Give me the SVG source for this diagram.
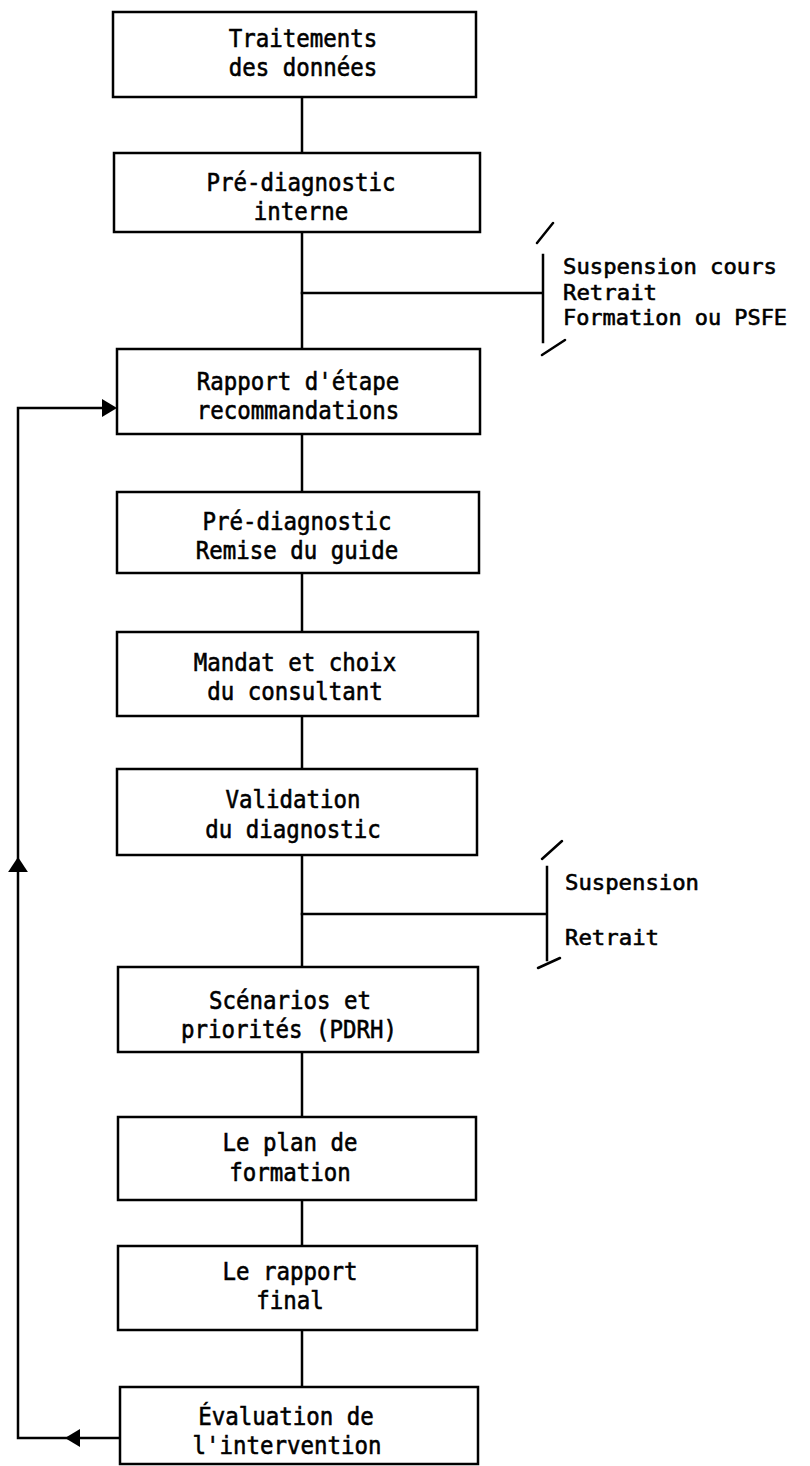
<svg xmlns="http://www.w3.org/2000/svg" xmlns:xlink="http://www.w3.org/1999/xlink" width="810" height="1466" viewBox="0 0 810 1466">
  <style>
    .box { fill: #fff; stroke: #000; stroke-width: 2.5; }
    .line { fill: none; stroke: #000; stroke-width: 2.5; stroke-linecap: square; }
    .slash { fill: none; stroke: #000; stroke-width: 2.5; stroke-linecap: round; }
    .lbl { font-family: "DejaVu Sans Mono", "Liberation Mono", monospace; font-size: 25px; fill: #000; stroke: #000; stroke-width: 0.6; text-anchor: middle; }
    .side { font-family: "DejaVu Sans Mono", "Liberation Mono", monospace; font-size: 22px; fill: #000; stroke: #000; stroke-width: 0.6; text-anchor: start; }
    .head { fill: #000; stroke: none; }
  </style>
  <defs>
    <!-- filled arrowhead pointing right, tip at origin -->
    <path id="tri" d="M0,0 L-15,-9 L-15,9 Z"/>
  </defs>
  <rect width="810" height="1466" fill="#fff"/>

  <g id="connectors">
    <!-- main vertical flow -->
    <path class="line" d="M302,97 V153 M302,232 V349 M302,434 V492 M302,573 V632 M302,716 V769 M302,855 V967 M302,1052 V1117 M302,1200 V1246 M302,1330 V1387"/>
    <!-- first exit branch -->
    <path class="line" d="M302,293 H543 M543,255 V342"/>
    <path class="slash" d="M537,243 L553,223 M542,355 L565,340"/>
    <!-- second exit branch -->
    <path class="line" d="M302,914 H547 M547,867 V960"/>
    <path class="slash" d="M542,859 L562,841 M538,968 L560,958"/>
    <!-- feedback loop -->
    <path class="line" d="M120,1438 H18 V408 H110"/>
    <use href="#tri" class="head" transform="translate(117,408)"/>
    <use href="#tri" class="head" transform="translate(65,1438) rotate(180)"/>
    <use href="#tri" class="head" transform="translate(18,857) rotate(-90) scale(1,1.1)"/>
  </g>

  <g id="n1">
    <rect class="box" x="113" y="12" width="363" height="85"/>
    <text class="lbl" x="303" y="47" textLength="148.5" lengthAdjust="spacingAndGlyphs">Traitements</text>
    <text class="lbl" x="303" y="76" textLength="148.5" lengthAdjust="spacingAndGlyphs">des données</text>
  </g>
  <g id="n2">
    <rect class="box" x="114" y="153" width="366" height="79"/>
    <text class="lbl" x="301" y="191" textLength="189" lengthAdjust="spacingAndGlyphs">Pré-diagnostic</text>
    <text class="lbl" x="301" y="220" textLength="94.5" lengthAdjust="spacingAndGlyphs">interne</text>
  </g>
  <g id="n3">
    <rect class="box" x="117" y="349" width="363" height="85"/>
    <text class="lbl" x="298" y="390" textLength="202.5" lengthAdjust="spacingAndGlyphs">Rapport d'étape</text>
    <text class="lbl" x="298" y="419" textLength="202.5" lengthAdjust="spacingAndGlyphs">recommandations</text>
  </g>
  <g id="n4">
    <rect class="box" x="117" y="492" width="362" height="81"/>
    <text class="lbl" x="297" y="530" textLength="189" lengthAdjust="spacingAndGlyphs">Pré-diagnostic</text>
    <text class="lbl" x="297" y="559" textLength="202.5" lengthAdjust="spacingAndGlyphs">Remise du guide</text>
  </g>
  <g id="n5">
    <rect class="box" x="117" y="632" width="361" height="84"/>
    <text class="lbl" x="295" y="671" textLength="202.5" lengthAdjust="spacingAndGlyphs">Mandat et choix</text>
    <text class="lbl" x="295" y="700" textLength="175.5" lengthAdjust="spacingAndGlyphs">du consultant</text>
  </g>
  <g id="n6">
    <rect class="box" x="117" y="769" width="360" height="86"/>
    <text class="lbl" x="293" y="808" textLength="135" lengthAdjust="spacingAndGlyphs">Validation</text>
    <text class="lbl" x="293" y="838" textLength="175.5" lengthAdjust="spacingAndGlyphs">du diagnostic</text>
  </g>
  <g id="n7">
    <rect class="box" x="118" y="967" width="360" height="85"/>
    <text class="lbl" x="290" y="1009" textLength="162" lengthAdjust="spacingAndGlyphs">Scénarios et</text>
    <text class="lbl" x="289" y="1038" textLength="216" lengthAdjust="spacingAndGlyphs">priorités (PDRH)</text>
  </g>
  <g id="n8">
    <rect class="box" x="118" y="1117" width="358" height="83"/>
    <text class="lbl" x="290" y="1151" textLength="135" lengthAdjust="spacingAndGlyphs">Le plan de</text>
    <text class="lbl" x="290" y="1181" textLength="121.5" lengthAdjust="spacingAndGlyphs">formation</text>
  </g>
  <g id="n9">
    <rect class="box" x="118" y="1246" width="359" height="84"/>
    <text class="lbl" x="290" y="1280" textLength="135" lengthAdjust="spacingAndGlyphs">Le rapport</text>
    <text class="lbl" x="290" y="1309" textLength="67.5" lengthAdjust="spacingAndGlyphs">final</text>
  </g>
  <g id="n10">
    <rect class="box" x="120" y="1387" width="358" height="77"/>
    <text class="lbl" x="286" y="1425" textLength="175.5" lengthAdjust="spacingAndGlyphs">Évaluation de</text>
    <text class="lbl" x="287" y="1454" textLength="189" lengthAdjust="spacingAndGlyphs">l'intervention</text>
  </g>

  <g id="exit1">
    <text class="side" x="563" y="274" textLength="214" lengthAdjust="spacingAndGlyphs">Suspension cours</text>
    <text class="side" x="563" y="299.5" textLength="94" lengthAdjust="spacingAndGlyphs">Retrait</text>
    <text class="side" x="563" y="325" textLength="224" lengthAdjust="spacingAndGlyphs">Formation ou PSFE</text>
  </g>
  <g id="exit2">
    <text class="side" x="565" y="890" textLength="134" lengthAdjust="spacingAndGlyphs">Suspension</text>
    <text class="side" x="565" y="945" textLength="94" lengthAdjust="spacingAndGlyphs">Retrait</text>
  </g>
</svg>
